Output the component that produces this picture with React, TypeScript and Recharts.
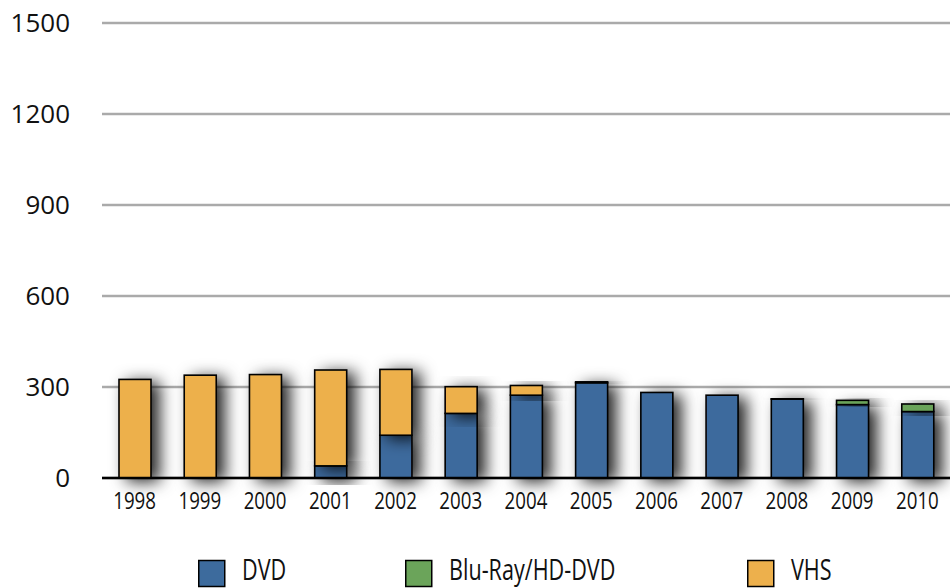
import React from 'react';
import { BarChart, Bar, XAxis, YAxis, CartesianGrid, Legend } from 'recharts';

const YEARS = ['1998', '1999', '2000', '2001', '2002', '2003', '2004', '2005', '2006', '2007', '2008', '2009', '2010'];
const DVD = [0, 0, 0, 40, 141, 213, 273, 314, 282, 273, 260, 242, 219];
const BLURAY = [0, 0, 0, 0, 0, 0, 0, 0, 0, 0, 2, 14, 25];
const VHS = [325, 339, 341, 316, 217, 88, 32, 3, 0, 0, 0, 0, 0];
const Y_TICKS = [0, 300, 600, 900, 1200, 1500];

const SERIES = [
  { key: 'DVD', name: 'DVD', color: '#3D6B9D' },
  { key: 'BluRay', name: 'Blu-Ray/HD-DVD', color: '#6BA45A' },
  { key: 'VHS', name: 'VHS', color: '#EDB04C' },
];

const data = YEARS.map((year, i) => ({ year, DVD: DVD[i], BluRay: BLURAY[i], VHS: VHS[i] }));

const LEGEND_LEFT = [198, 405, 747];
const FONT = '"Open Sans", "Liberation Sans", sans-serif';

const ShadowBar = (props: any) => {
  const { x, y, width, height, fill } = props;
  if (!height || height <= 0) return null;
  return (
    <rect
      x={x}
      y={y}
      width={width}
      height={height}
      fill={fill}
      stroke="#000"
      strokeWidth={1.6}
      filter="url(#barShadow)"
    />
  );
};

const XTick = (props: any) => {
  const { x, y, payload } = props;
  return (
    <g transform={`translate(${x},${y})`}>
      <text transform="scale(0.78,1)" textAnchor="middle" dy="0.72em" fontFamily={FONT} fontSize={24} fill="#111">
        {payload.value}
      </text>
    </g>
  );
};

const LegendContent = () => (
  <svg width={950} height={60} style={{ display: 'block', overflow: 'visible' }}>
    {SERIES.map((s, i) => (
      <g key={s.key} transform={`translate(${LEGEND_LEFT[i]},0)`}>
        <rect x={0.75} y={32.5} width={26} height={26} fill={s.color} stroke="#000" strokeWidth={1.5} />
        <g transform="translate(44,52) scale(0.72,1)">
          <text x={0} y={0} fontFamily={FONT} fontSize={30} fill="#111">
            {s.name}
          </text>
        </g>
      </g>
    ))}
  </svg>
);

export default function App() {
  return (
    <div style={{ position: 'absolute', left: 0, top: 0, width: 950, height: 588, background: '#fff' }}>
      <svg width="0" height="0" style={{ position: 'absolute' }}>
        <defs>
          <filter id="barShadow" x="-80%" y="-40%" width="330%" height="190%">
            <feDropShadow dx="8" dy="3" stdDeviation="8" floodColor="#000" floodOpacity="0.85" />
          </filter>
        </defs>
      </svg>
      <BarChart
        width={950}
        height={588}
        data={data}
        margin={{ top: 23, right: 0, bottom: 0, left: 0 }}
        barSize={32}
      >
        <CartesianGrid vertical={false} stroke="#AAAAAA" strokeWidth={2.5} />
        <XAxis
          dataKey="year"
          height={50}
          tickSize={0}
          tickMargin={14}
          axisLine={{ stroke: '#000', strokeWidth: 2.5 }}
          tick={<XTick />}
          interval={0}
        />
        <YAxis
          width={102}
          domain={[0, 1500]}
          ticks={Y_TICKS}
          tickSize={0}
          tickMargin={32}
          axisLine={false}
          tickLine={false}
          tick={{ fontFamily: FONT, fontSize: 26, fill: '#111' }}
        />
        <Legend
          verticalAlign="bottom"
          height={60}
          content={<LegendContent />}
          wrapperStyle={{ left: 0, top: 528, width: 950, height: 60 }}
        />
        {SERIES.map((s) => (
          <Bar
            key={s.key}
            dataKey={s.key}
            name={s.name}
            stackId="a"
            fill={s.color}
            shape={ShadowBar}
            isAnimationActive={false}
          />
        ))}
      </BarChart>
    </div>
  );
}
